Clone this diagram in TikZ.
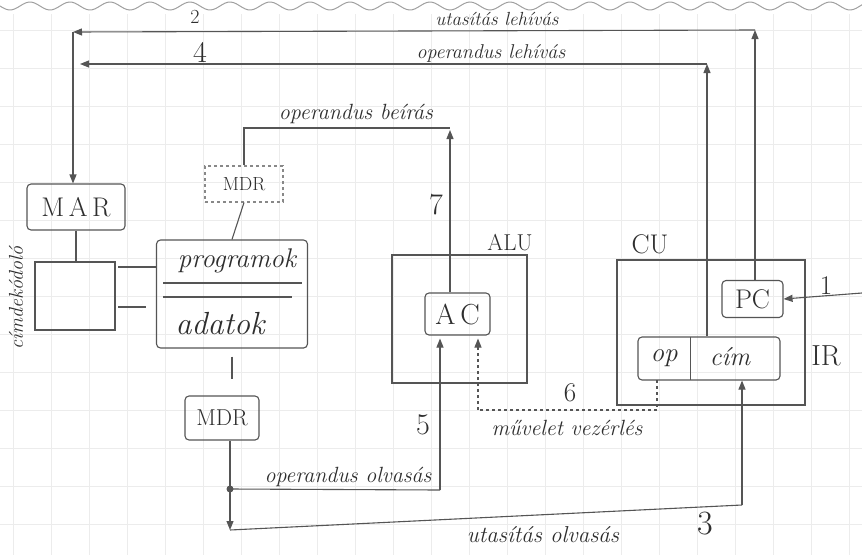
\documentclass[tikz,border=0pt]{standalone}
\usepackage{fontspec}
\usetikzlibrary{arrows.meta,calc}
\definecolor{pen}{HTML}{555555}
\definecolor{ink}{HTML}{2E2E2E}
\definecolor{gridc}{HTML}{ECECEC}
\definecolor{wave}{HTML}{A0A0A0}
\newcommand{\fs}[1]{\fontsize{#1}{#1}\selectfont}
\begin{document}
\begin{tikzpicture}[x=1pt,y=-1pt,
  pencil/.style={draw=pen, line width=1.1pt},
  arr/.style={pencil, -{Triangle[length=9pt,width=7pt]}},
  box/.style={draw=pen, line width=1.1pt, rounded corners=4pt, inner sep=0pt, text=ink},
  sqbox/.style={box, rounded corners=0pt},
  lbl/.style={text=ink, inner sep=1pt, font=\fs{20}\itshape},
  num/.style={text=ink, inner sep=1pt, font=\fs{30}}]
\useasboundingbox (0,0) rectangle (862,555);
\fill[white] (0,0) rectangle (862,555);
% grid paper
\foreach \gx in {13,51,...,862} \draw[gridc, line width=0.6pt] (\gx,14) -- (\gx,555);
\foreach \gy in {30,68,...,555} \draw[gridc, line width=0.6pt] (0,\gy) -- (862,\gy);
% torn top edge
\draw[wave, line width=1pt] plot[domain=0:862, samples=300, smooth] (\x, {6+4*sin(\x*9)});

% boxes
\node[box, minimum width=98pt, minimum height=46pt, font=\fs{27}] (mar) at (76,207) {M\,A\,R};
\node[sqbox, minimum width=80pt, minimum height=68pt] (dec) at (75,296) {};
\node[lbl, rotate=90, font=\fs{20}\itshape] (declbl) at (16,298) {címdekódoló};
\node[box, minimum width=151pt, minimum height=108pt] (mem) at (232,294) {};
\node[lbl, font=\fs{27}\itshape] (prog) at (237,261) {programok};
\node[lbl, font=\fs{32}\itshape] (adat) at (220,324) {adatok};
\draw[pencil] (163,283) -- (302,283);
\draw[pencil] (163,297) -- (292,297);
\node[sqbox, dashed, draw=pen!70, minimum width=78pt, minimum height=36pt, font=\fs{19}] (mdrd) at (244,184) {MDR};
\node[box, minimum width=74pt, minimum height=44pt, font=\fs{23}] (mdr) at (222,418) {MDR};

\node[sqbox, minimum width=135pt, minimum height=128pt] (alu) at (459.5,319) {};
\node[num, font=\fs{23}] (alulbl) at (510,243) {ALU};
\node[box, minimum width=65pt, minimum height=42pt, font=\fs{29}] (ac) at (457.5,314) {A\,C};

\node[sqbox, minimum width=188pt, minimum height=145pt] (cu) at (711,332.5) {};
\node[num, font=\fs{27}] (culbl) at (650,244) {CU};
\node[box, minimum width=61pt, minimum height=37pt, font=\fs{27}] (pc) at (752.5,299) {PC};
\node[box, minimum width=142pt, minimum height=43pt] (ir) at (709,358.5) {};
\node[lbl, minimum width=52pt, minimum height=43pt, inner sep=0pt, font=\fs{27}\itshape] (op) at (664,358.5) {op};
\node[lbl, font=\fs{26}\itshape] (cim) at (730,357) {cím};
\draw[pencil] (op.north east) -- (op.south east);
\node[num, font=\fs{29}] (irlbl) at (826,356) {IR};

% 2: utasitas lehivas
\coordinate (c2r) at (755,30);
\coordinate (c2l) at (73,32);
\draw[arr] (pc.north -| c2r) -- (c2r);
\draw[arr] (c2r) -- (c2l);
\draw[arr] (c2l) -- (c2l |- mar.north);
\node[num, font=\fs{20}] (n2) at (195,17) {2};
\node[lbl, font=\fs{19}\itshape] (t2) at (497,19) {utasítás lehívás};

% 4: operandus lehivas
\coordinate (c4r) at (707,64);
\coordinate (c4l) at (80,64);
\draw[arr] (ir.north -| c4r) -- (c4r);
\draw[arr] (c4r) -- (c4l);
\node[num, font=\fs{30}] (n4) at (200,52) {4};
\node[lbl, font=\fs{20}\itshape] (t4) at (491,53) {operandus lehívás};

% MAR - decoder - memory
\draw[pencil] (mar.south) -- (mar.south |- dec.north);
\coordinate (b1) at (118,267);
\coordinate (b2) at (118,307);
\draw[pencil] (b1) -- (b1 -| mem.west);
\draw[pencil] (b2) -- ($(b2 -| mem.west)+(-10,0)$);

% memory - MDR' - operandus beiras
\draw[pencil] (mem.north) -- (mdrd.south);
\coordinate (c7) at (450,128);
\draw[pencil] (mdrd.north) |- (c7);
\draw[arr, shorten >=2pt] (ac.north -| c7) -- (c7);
\node[lbl, font=\fs{22}\itshape] (t7) at (356,114) {operandus beírás};
\node[num] (n7) at (436,205) {7};

% memory - MDR
\draw[pencil, shorten <=8pt, shorten >=16pt] (mem.south) -- (mem.south |- mdr.north);

% 5: operandus olvasas, 3: utasitas olvasas
\coordinate (dot) at (230,489);
\coordinate (c3l) at (230,530);
\coordinate (c3r) at (742,505);
\coordinate (c5) at (440,490);
\draw[pencil] (mdr.south -| dot) -- (dot);
\fill[pen] (dot) circle (3.5pt);
\draw[arr] (dot) -- (c3l);
\draw[pencil] (c3l) -- (c3r);
\draw[arr] (c3r) -- (c3r |- ir.south);
\draw[pencil] (dot) -- (c5);
\draw[arr, shorten >=3pt] (c5) -- (c5 |- ac.south);
\node[lbl, font=\fs{22}\itshape] (t5) at (348,477) {operandus olvasás};
\node[num] (n5) at (423,425) {5};
\node[lbl, font=\fs{23}\itshape] (t3) at (543,535) {utasítás olvasás};
\node[num, font=\fs{34}] (n3) at (705,524) {3};

% 6: muvelet vezerles
\coordinate (c6r) at (657,410);
\coordinate (c6l) at (478,410);
\draw[pencil, dashed] (op.south -| c6r) -- (c6r) -- (c6l);
\draw[arr, dashed, shorten >=3pt] (c6l) -- (c6l |- ac.south);
\node[num, font=\fs{27}] (n6) at (570,393) {6};
\node[lbl, font=\fs{22}\itshape] (t6) at (567,428) {művelet vezérlés};

% 1
\coordinate (c1) at (862,293);
\draw[arr] (c1) -- (pc.east);
\node[num, font=\fs{27}] (n1) at (826,286) {1};
\end{tikzpicture}
\end{document}
